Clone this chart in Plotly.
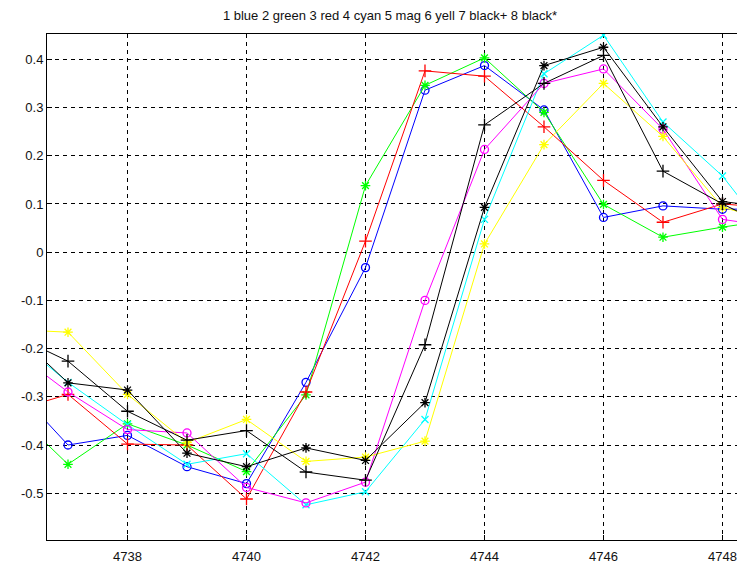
import plotly.graph_objects as go

# Sample positions (the first and last lie just outside the visible x range)
x_pos = [4736, 4737, 4738, 4739, 4740, 4741, 4742, 4743, 4744, 4745, 4746, 4747, 4748, 4749]

blue = [-0.267, -0.40, -0.38, -0.445, -0.48, -0.27, -0.032, 0.336, 0.387, 0.295, 0.072, 0.096, 0.089, 0.09]
green = [-0.321, -0.44, -0.356, -0.40, -0.455, -0.296, 0.138, 0.346, 0.403, 0.29, 0.099, 0.031, 0.052, 0.07]
red = [-0.332, -0.295, -0.398, -0.40, -0.512, -0.29, 0.023, 0.376, 0.365, 0.26, 0.149, 0.062, 0.10, 0.09]
cyan = [-0.168, -0.27, -0.358, -0.44, -0.418, -0.524, -0.497, -0.347, 0.068, 0.37, 0.45, 0.27, 0.158, 0.0]
magenta = [-0.197, -0.29, -0.368, -0.375, -0.488, -0.52, -0.477, -0.10, 0.213, 0.35, 0.38, 0.255, 0.068, 0.05]
yellow = [-0.16, -0.166, -0.295, -0.395, -0.347, -0.434, -0.425, -0.392, 0.017, 0.223, 0.35, 0.24, 0.093, 0.06]
black_plus = [-0.167, -0.226, -0.33, -0.39, -0.37, -0.456, -0.473, -0.192, 0.264, 0.35, 0.408, 0.168, 0.10, 0.04]
black_star = [-0.155, -0.271, -0.286, -0.417, -0.445, -0.406, -0.432, -0.312, 0.093, 0.387, 0.425, 0.26, 0.105, 0.09]

x_ticks = [4738, 4740, 4742, 4744, 4746, 4748]
y_ticks = [-0.5, -0.4, -0.3, -0.2, -0.1, 0, 0.1, 0.2, 0.3, 0.4]
y_labels = ["-0.5", "-0.4", "-0.3", "-0.2", "-0.1", "0", "0.1", "0.2", "0.3", "0.4"]

title_text = "1 blue 2 green 3 red 4 cyan 5 mag 6 yell 7 black+ 8 black*"

series = [
    ("1", blue, "#0000ff", "circle-open", 8),
    ("2", green, "#00ff00", "asterisk-open", 8),
    ("3", red, "#ff0000", "cross-thin-open", 9),
    ("4", cyan, "#00ffff", "x-thin-open", 7),
    ("5", magenta, "#ff00ff", "circle-open", 8),
    ("6", yellow, "#ffff00", "asterisk-open", 8),
    ("7", black_plus, "#000000", "cross-thin-open", 9),
    ("8", black_star, "#000000", "asterisk-open", 8),
]

fig = go.Figure()
for name, vals, color, sym, size in series:
    fig.add_trace(go.Scatter(
        x=x_pos, y=vals, mode="lines+markers", name=name,
        line=dict(color=color, width=1),
        marker=dict(symbol=sym, size=size, color=color, line=dict(color=color, width=1.3)),
        showlegend=False,
    ))

axis_font = dict(family="Liberation Sans, Arial, sans-serif", size=13, color="#111111")

fig.update_layout(
    width=737, height=566,
    margin=dict(l=47, r=0, t=34, b=26),
    paper_bgcolor="white", plot_bgcolor="white",
    title=dict(text=title_text, x=390 / 737, xanchor="center", y=1 - 15 / 566, yanchor="middle",
               font=dict(family="Liberation Sans, Arial, sans-serif", size=13, color="#111111")),
    xaxis=dict(
        range=[4736.647, 4748.244], tickvals=x_ticks, ticktext=[str(v) for v in x_ticks],
        showgrid=True, gridcolor="#000000", gridwidth=1, griddash="4px,4px",
        showline=True, linecolor="#000000", linewidth=1, mirror=True,
        ticks="inside", ticklen=5, tickcolor="#000000", zeroline=False,
        tickfont=axis_font, ticklabelstandoff=4,
    ),
    yaxis=dict(
        range=[-0.597, 0.4525], tickvals=y_ticks, ticktext=y_labels,
        showgrid=True, gridcolor="#000000", gridwidth=1, griddash="4px,4px",
        showline=True, linecolor="#000000", linewidth=1, mirror=False,
        ticks="inside", ticklen=5, tickcolor="#000000", zeroline=False,
        tickfont=axis_font,
    ),
)

fig.write_html("out.html")
